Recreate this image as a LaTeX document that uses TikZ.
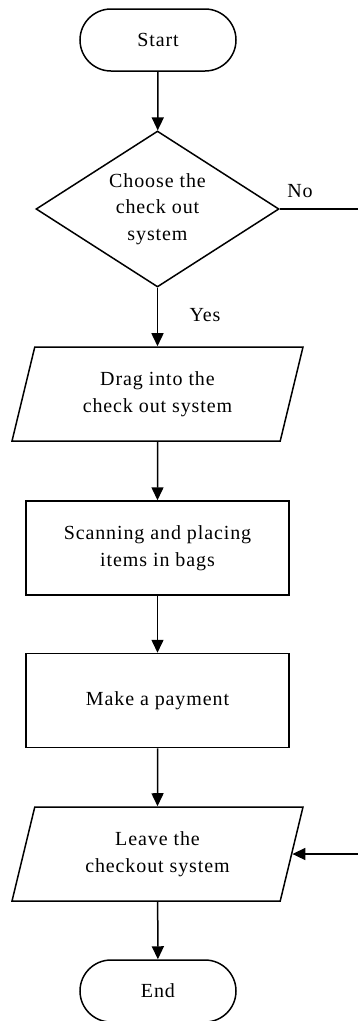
\documentclass[tikz,border=0pt]{standalone}
\usepackage{fontspec}
\setmainfont[LetterSpace=4.5]{Liberation Serif}
\usetikzlibrary{shapes.geometric,shapes.misc,arrows.meta,calc}

\begin{document}
\begin{tikzpicture}[x=1pt,y=-1pt,
  every node/.style={font=\fontsize{20}{26.5}\selectfont, align=center},
  term/.style={draw, line width=1.5pt, rounded rectangle, minimum width=156pt, minimum height=62pt, inner sep=0pt},
  decision/.style={draw, line width=1.5pt, diamond, shape aspect=1.56, minimum width=243pt, minimum height=156pt, inner sep=0pt},
  io/.style={draw, line width=1.5pt, trapezium, trapezium left angle=63, trapezium right angle=117,
             trapezium stretches body=true, minimum width=291pt, minimum height=94pt, inner sep=0pt},
  process/.style={draw, line width=1.5pt, rectangle, minimum width=263pt, minimum height=94pt, inner sep=0pt},
  flow/.style={line width=1.5pt, -{Triangle[length=13pt,width=12pt]}},
  plain/.style={line width=1.5pt}]

\useasboundingbox (0,0) rectangle (358,1021);

% steps of the checkout
\node[term] (start) at (158,40) {Start};
\node[decision] (choose) at (157.5,209) {Choose the\\check out\\system};
\node[io] (drag) at (157.5,394) {Drag into the\\check out system};
\node[process] (scan) at (157.5,548) {Scanning and placing\\items in bags};
\node[process] (pay) at (157.5,700.5) {Make a payment};
\node[io] (leave) at (157.5,854) {Leave the\\checkout system};
\node[term] (finish) at (158,991) {End};

% branch that skips straight to leaving
\coordinate (noout) at (358,209);
\coordinate (noin) at (358,854);
\coordinate (leaveside) at ($(leave.top right corner)!0.5!(leave.bottom right corner)$);

\draw[flow] (start) -- (choose);
\draw[flow] (choose) -- (drag);
\draw[flow] (drag) -- (scan);
\draw[flow] (scan) -- (pay);
\draw[flow] (pay) -- (leave);
\draw[flow] (leave) -- (finish);
\draw[plain] (choose.east) -- (noout);
\draw[flow] (noin) -- (leaveside);

% branch labels
\node (yes) at (205,315) {Yes};
\node (no) at (300,191) {No};
\end{tikzpicture}
\end{document}
